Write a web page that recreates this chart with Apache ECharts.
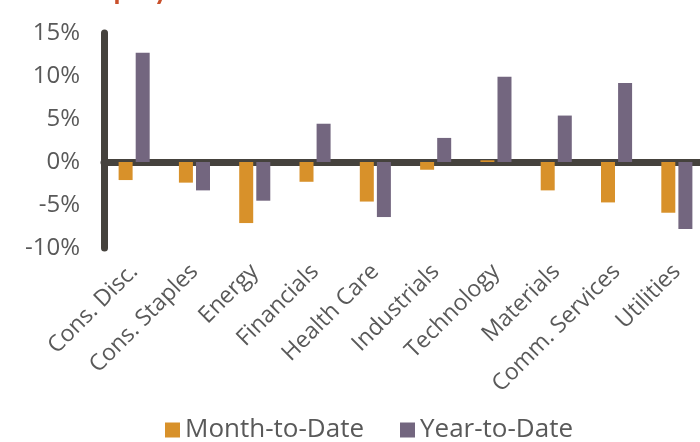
<!DOCTYPE html>
<html>
<head>
<meta charset="utf-8">
<script src="https://cdn.jsdelivr.net/npm/echarts@6/dist/echarts.min.js"></script>
<style>
  html, body { margin: 0; padding: 0; background: #fff; }
  #chart { width: 700px; height: 442px; }
</style>
</head>
<body>
<div id="chart"></div>
<script>
// 数据
const sectors = ["Cons. Disc.", "Cons. Staples", "Energy", "Financials", "Health Care",
  "Industrials", "Technology", "Materials", "Comm. Services", "Utilities"];
const monthToDate = [-2.1, -2.4, -7.1, -2.3, -4.6, -0.9, 0.2, -3.3, -4.7, -5.9];
const yearToDate = [12.7, -3.3, -4.5, 4.45, -6.4, 2.8, 9.9, 5.4, 9.2, -7.8];
const yTicks = [-10, -5, 0, 5, 10, 15];

const textGray = "#595959";
const axisDark = "#45423D";
const font = "Open Sans";

const chart = echarts.init(document.getElementById("chart"));
chart.setOption({
  animation: false,
  title: {
    text: "Equity Sector Returns",
    left: 84, top: -29,
    textStyle: { color: "#C9502B", fontSize: 28, fontFamily: "Lato", fontWeight: "bold" }
  },
  legend: {
    bottom: -6, left: 160,
    itemWidth: 15, itemHeight: 15, itemGap: 36,
    icon: "rect",
    textStyle: { color: textGray, fontSize: 26, fontFamily: font }
  },
  grid: { left: 104, top: 33, bottom: 194, right: -7, containLabel: false, outerBoundsMode: "none" },
  xAxis: {
    type: "category",
    data: sectors,
    axisTick: { show: false },
    axisLine: { onZero: true, lineStyle: { color: axisDark, width: 7 } },
    axisLabel: { rotate: 45, margin: 20, color: textGray, fontSize: 23, fontFamily: font, interval: 0 }
  },
  yAxis: {
    type: "value",
    min: yTicks[0], max: yTicks[yTicks.length - 1], interval: 5,
    splitLine: { show: false },
    axisLine: { show: true, lineStyle: { color: axisDark, width: 7 } },
    axisLabel: { margin: 24, color: textGray, fontSize: 24, fontFamily: font, formatter: "{value}%" }
  },
  series: [
    { name: "Month-to-Date", type: "bar", data: monthToDate, barWidth: 14, barGap: "22%",
      itemStyle: { color: "#D8912A" } },
    { name: "Year-to-Date", type: "bar", data: yearToDate, barWidth: 14,
      itemStyle: { color: "#73667F" } }
  ]
});
</script>
</body>
</html>
